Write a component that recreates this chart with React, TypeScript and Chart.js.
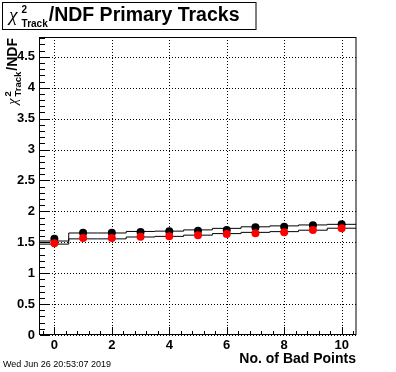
import React, { useEffect, useRef } from 'react';
import { Chart, registerables } from 'chart.js';

Chart.register(...registerables);

// ---- data ----
const binCenters = [0, 1, 2, 3, 4, 5, 6, 7, 8, 9, 10];
const blackPoints = [1.558, 1.655, 1.655, 1.667, 1.678, 1.688, 1.699, 1.743, 1.752, 1.775, 1.791];
const redPoints = [1.484, 1.57, 1.57, 1.591, 1.597, 1.613, 1.634, 1.646, 1.662, 1.699, 1.727];
const upperLine = [1.52, 1.65, 1.65, 1.675, 1.68, 1.7, 1.725, 1.75, 1.765, 1.78, 1.79];
const lowerLine = [1.47, 1.555, 1.555, 1.585, 1.595, 1.615, 1.64, 1.66, 1.672, 1.695, 1.727];

const xMajorTicks = [0, 2, 4, 6, 8, 10];
const yMajorTicks = [0, 0.5, 1, 1.5, 2, 2.5, 3, 3.5, 4, 4.5];
const xRange = [-0.5, 10.5];
const yRange = [0, 4.82];
const xMinorStep = 0.4;
const yMinorStep = 0.1;

const chiSymbol = 'χ';
const chiSup = '2';
const chiSub = 'Track';
const titleTail = '/NDF Primary Tracks';
const yTitleTail = '/NDF';
const xTitle = 'No. of Bad Points';
const dateText = 'Wed Jun 26 20:53:07 2019';

const SANS = '"Liberation Sans", Arial, Helvetica, sans-serif';
const SERIF = '"Liberation Serif", "Times New Roman", serif';

function stepData(vals: number[]) {
  const pts = binCenters.map((c, i) => ({ x: c, y: vals[i] }));
  const n = binCenters.length;
  return [
    { x: binCenters[0] - 0.5, y: vals[0] },
    ...pts,
    { x: binCenters[n - 1] + 0.5, y: vals[n - 1] },
  ];
}

function chiLabel(
  ctx: CanvasRenderingContext2D,
  size: number,
  subSize: number,
  gap: number,
  tail: string,
  draw: boolean,
  x = 0,
  y = 0
) {
  const chiFont = `italic ${size}px ${SERIF}`;
  const scFont = `bold ${subSize}px ${SANS}`;
  const mainFont = `bold ${size}px ${SANS}`;
  ctx.font = chiFont;
  const wChi = ctx.measureText(chiSymbol).width;
  ctx.font = scFont;
  const wSc = Math.max(ctx.measureText(chiSup).width, ctx.measureText(chiSub).width);
  ctx.font = mainFont;
  const wTail = ctx.measureText(tail).width;
  const total = wChi + gap + wSc + 1 + wTail;
  if (draw) {
    ctx.fillStyle = '#000';
    ctx.textAlign = 'left';
    ctx.textBaseline = 'alphabetic';
    ctx.font = chiFont;
    ctx.fillText(chiSymbol, x, y);
    ctx.font = scFont;
    ctx.fillText(chiSup, x + wChi + gap, y - size * 0.42);
    ctx.fillText(chiSub, x + wChi + gap, y + size * 0.3);
    ctx.font = mainFont;
    ctx.fillText(tail, x + wChi + gap + wSc + 1, y);
  }
  return total;
}

const rootPlugin = {
  id: 'rootStyle',
  beforeDraw(chart: any) {
    const ctx = chart.ctx;
    ctx.save();
    ctx.fillStyle = '#fff';
    ctx.fillRect(0, 0, chart.width, chart.height);
    ctx.restore();
  },
  beforeDatasetsDraw(chart: any) {
    const ctx = chart.ctx;
    const { left, right, top, bottom } = chart.chartArea;
    const xs = chart.scales.x;
    const ys = chart.scales.y;
    ctx.save();
    ctx.strokeStyle = '#000';
    ctx.lineWidth = 1;
    ctx.setLineDash([1, 2]);
    xMajorTicks.forEach((v) => {
      const px = Math.round(xs.getPixelForValue(v)) + 0.5;
      ctx.beginPath();
      ctx.moveTo(px, bottom);
      ctx.lineTo(px, top);
      ctx.stroke();
    });
    yMajorTicks.forEach((v) => {
      const py = Math.round(ys.getPixelForValue(v)) + 0.5;
      ctx.beginPath();
      ctx.moveTo(left, py);
      ctx.lineTo(right, py);
      ctx.stroke();
    });
    ctx.restore();
  },
  afterDatasetsDraw(chart: any) {
    const ctx = chart.ctx;
    const { left, right, top, bottom } = chart.chartArea;
    const xs = chart.scales.x;
    const ys = chart.scales.y;
    ctx.save();
    ctx.strokeStyle = '#000';
    ctx.lineWidth = 1;
    ctx.setLineDash([]);
    ctx.strokeRect(left - 0.5, top + 0.5, right - left + 0.5, bottom - top - 1);
    // x ticks (inside, from bottom)
    for (let i = -5; i < 40; i++) {
      const v = i * xMinorStep;
      if (v < xRange[0] || v > xRange[1]) continue;
      const major = xMajorTicks.some((m) => Math.abs(m - v) < 1e-6);
      const px = Math.round(xs.getPixelForValue(v)) + 0.5;
      ctx.beginPath();
      ctx.moveTo(px, bottom);
      ctx.lineTo(px, bottom - (major ? 8 : 4));
      ctx.stroke();
    }
    // y ticks (inside, from left)
    for (let i = 0; i < 60; i++) {
      const v = i * yMinorStep;
      if (v < yRange[0] || v > yRange[1]) continue;
      const major = yMajorTicks.some((m) => Math.abs(m - v) < 1e-6);
      const py = Math.round(ys.getPixelForValue(v)) + 0.5;
      ctx.beginPath();
      ctx.moveTo(left, py);
      ctx.lineTo(left + (major ? 9 : 5), py);
      ctx.stroke();
    }
    ctx.restore();
  },
  afterDraw(chart: any) {
    const ctx = chart.ctx;
    const { right, top } = chart.chartArea;
    ctx.save();
    // title box
    ctx.fillStyle = '#fff';
    ctx.fillRect(2.5, 2.5, 253.5, 27);
    ctx.strokeStyle = '#000';
    ctx.lineWidth = 1;
    ctx.strokeRect(2.5, 2.5, 253.5, 27);
    chiLabel(ctx, 19.5, 10, 4, titleTail, true, 9, 21);

    // y axis title (rotated)
    ctx.save();
    ctx.translate(17, top + 1);
    ctx.rotate(-Math.PI / 2);
    const w = chiLabel(ctx, 14, 9.5, 2, yTitleTail, false);
    chiLabel(ctx, 14, 9.5, 2, yTitleTail, true, -w, 0);
    ctx.restore();

    // x axis title
    ctx.fillStyle = '#000';
    ctx.font = `bold 14px ${SANS}`;
    ctx.textAlign = 'right';
    ctx.textBaseline = 'alphabetic';
    ctx.fillText(xTitle, right, 363);

    // date
    ctx.font = `9px ${SANS}`;
    ctx.textAlign = 'left';
    ctx.fillText(dateText, 3, 367);
    ctx.restore();
  },
};

export default function App() {
  const ref = useRef<HTMLCanvasElement>(null);
  useEffect(() => {
    const canvas = ref.current;
    if (!canvas) return;
    const chart = new Chart(canvas, {
      type: 'scatter',
      data: {
        datasets: [
          {
            label: 'red',
            data: binCenters.map((c, i) => ({ x: c, y: redPoints[i] })),
            showLine: false,
            pointRadius: 4,
            pointBorderWidth: 0,
            pointBackgroundColor: '#ff0000',
            pointBorderColor: '#ff0000',
          },
          {
            label: 'black',
            data: binCenters.map((c, i) => ({ x: c, y: blackPoints[i] })),
            showLine: false,
            pointRadius: 4,
            pointBorderWidth: 0,
            pointBackgroundColor: '#000',
            pointBorderColor: '#000',
          },
          {
            label: 'upper',
            data: stepData(upperLine),
            showLine: true,
            stepped: 'middle',
            borderColor: '#000',
            borderWidth: 1,
            pointRadius: 0,
            fill: false,
          },
          {
            label: 'lower',
            data: stepData(lowerLine),
            showLine: true,
            stepped: 'middle',
            borderColor: '#000',
            borderWidth: 1,
            pointRadius: 0,
            fill: false,
          },
        ],
      } as any,
      options: {
        responsive: false,
        maintainAspectRatio: false,
        devicePixelRatio: 1,
        animation: false,
        events: [],
        layout: { padding: { top: 37, right: 40, left: 0, bottom: 0 } },
        plugins: { legend: { display: false }, tooltip: { enabled: false }, title: { display: false } },
        scales: {
          x: {
            type: 'linear',
            min: xRange[0],
            max: xRange[1],
            grid: { display: false, drawTicks: false },
            border: { display: false },
            afterBuildTicks: (s: any) => {
              s.ticks = xMajorTicks.map((v) => ({ value: v }));
            },
            afterFit: (s: any) => {
              s.height = 37;
            },
            ticks: {
              color: '#000',
              padding: 3,
              maxRotation: 0,
              autoSkip: false,
              font: { family: SANS, weight: 'bold', size: 13 },
              callback: (v: any) => String(v),
            },
          },
          y: {
            type: 'linear',
            min: yRange[0],
            max: yRange[1],
            grid: { display: false, drawTicks: false },
            border: { display: false },
            afterBuildTicks: (s: any) => {
              s.ticks = yMajorTicks.map((v) => ({ value: v }));
            },
            afterFit: (s: any) => {
              s.width = 40;
            },
            ticks: {
              color: '#000',
              padding: 5,
              autoSkip: false,
              font: { family: SANS, weight: 'bold', size: 13 },
              callback: (v: any) => String(v),
            },
          },
        },
      } as any,
      plugins: [rootPlugin],
    });
    return () => chart.destroy();
  }, []);
  return (
    <div style={{ position: 'absolute', left: 0, top: 0, width: 396, height: 372, background: '#fff' }}>
      <canvas ref={ref} width={396} height={372} style={{ display: 'block', width: 396, height: 372 }} />
    </div>
  );
}
